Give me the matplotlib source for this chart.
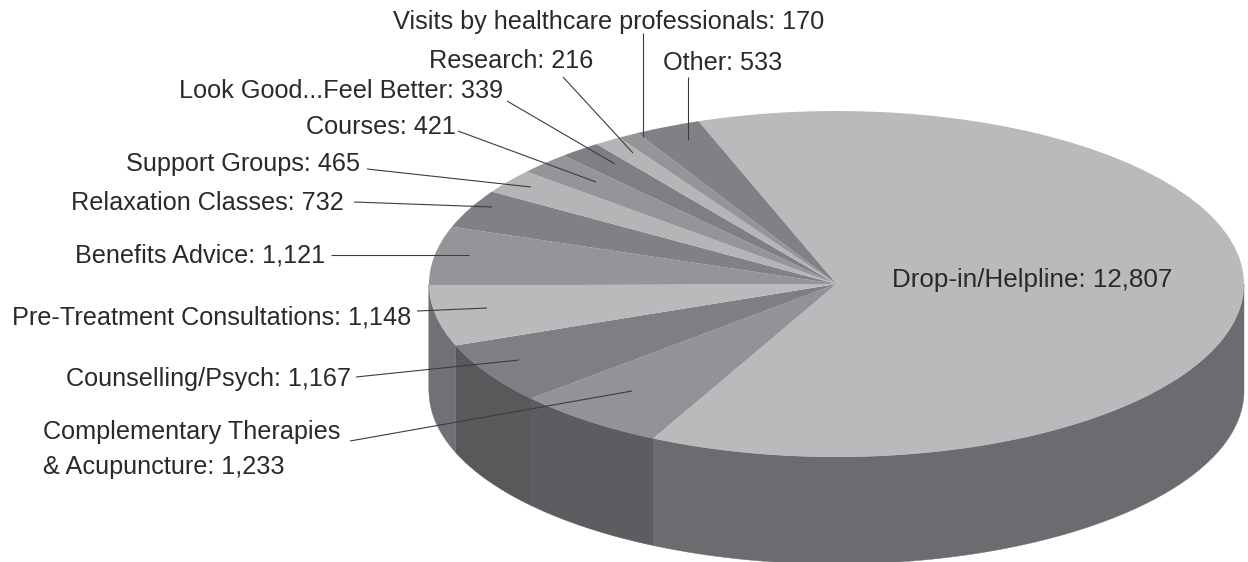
import numpy as np
import matplotlib
matplotlib.use('Agg')
import matplotlib.pyplot as plt

categories = ['Drop-in/Helpline', 'Complementary Therapies\n& Acupuncture', 'Counselling/Psych',
              'Pre-Treatment Consultations', 'Benefits Advice', 'Relaxation Classes', 'Support Groups',
              'Courses', 'Look Good...Feel Better', 'Research', 'Visits by healthcare professionals', 'Other']
values = [12807, 1233, 1167, 1148, 1121, 732, 465, 421, 339, 216, 170, 533]
top_colors = ['#b9babc', '#929396', '#7e7f82', '#b9babc', '#949598', '#808184',
              '#b4b5b7', '#949598', '#7e7f82', '#b4b5b7', '#949598', '#808184']
wall_colors = ['#6b6c6f', '#5c5d60', '#58595b', '#707174', '#707174', '#707174',
               '#707174', '#707174', '#707174', '#707174', '#707174', '#707174']

# label anchor (centre x, baseline y) and leader line (x0, y0, x1, y1), all in pixels
label_pos = [(1032.5, 287), (189.5, 439), (208.5, 386), (212, 324), (200, 263), (207, 210),
             (243.5, 171), (381, 134), (341.5, 98), (511, 68), (608.5, 29), (722.5, 70)]
leaders = [None, (350, 441, 632, 391), (356, 377, 519, 360), (417, 311, 487, 308),
           (331, 255, 469, 255), (354, 202, 492, 207), (367, 169, 531, 187), (458, 131, 596, 182),
           (507, 101, 615, 164), (563, 77, 633, 153), (643, 33, 643, 137), (688, 77, 688, 140)]

W, H = 1248, 562
cx, cy = 836.5, 284
a, b = 407.5, 173
depth = 107
fs = 18.2

plt.rcParams['font.family'] = ['Liberation Sans', 'DejaVu Sans']
fig = plt.figure(figsize=(W / 100, H / 100), dpi=100, facecolor='white')

ax = fig.add_axes([0, 0, 1, 1])
wedges, _ = ax.pie(values, startangle=109.8, counterclock=False, colors=top_colors,
                   radius=1, wedgeprops={'linewidth': 0.3, 'edgecolor': 'none', 'zorder': 3})
ax.set_aspect('auto')
ax.set_xlim(-cx / a, (W - cx) / a)
ax.set_ylim((cy - H) / b, cy / b)

# side wall, only the part of each slice facing the viewer
d = depth / b
for wedge, col in zip(wedges, wall_colors):
    t1, t2 = sorted((wedge.theta1, wedge.theta2))
    for shift in (0, 360, -360):
        lo = max(t1 + shift, 180)
        hi = min(t2 + shift, 360)
        if hi > lo:
            t = np.radians(np.linspace(lo, hi, 120))
            x = np.cos(t)
            y = np.sin(t)
            ax.fill(np.r_[x, x[::-1]], np.r_[y, y[::-1] - d], color=col, lw=0.3, zorder=2)

over = fig.add_axes([0, 0, 1, 1], facecolor='none')
over.set_xlim(0, W)
over.set_ylim(H, 0)
over.axis('off')
for name, val, (tx, ty), line in zip(categories, values, label_pos, leaders):
    if '\n' in name:
        first, second = name.split('\n')
        over.text(43, ty, first, fontsize=fs, color='#2b2a2b', va='baseline')
        over.text(43, ty + 35, f'{second}: {val:,}', fontsize=fs, color='#2b2a2b', va='baseline')
    else:
        size = fs + 0.5 if val > 10000 else fs
        over.text(tx, ty, f'{name}: {val:,}', fontsize=size, color='#2b2a2b', va='baseline', ha='center')
    if line:
        over.plot(line[0::2], line[1::2], color='#3c3c3e', lw=0.8, solid_capstyle='butt')

fig.savefig('out.png', dpi=100)
